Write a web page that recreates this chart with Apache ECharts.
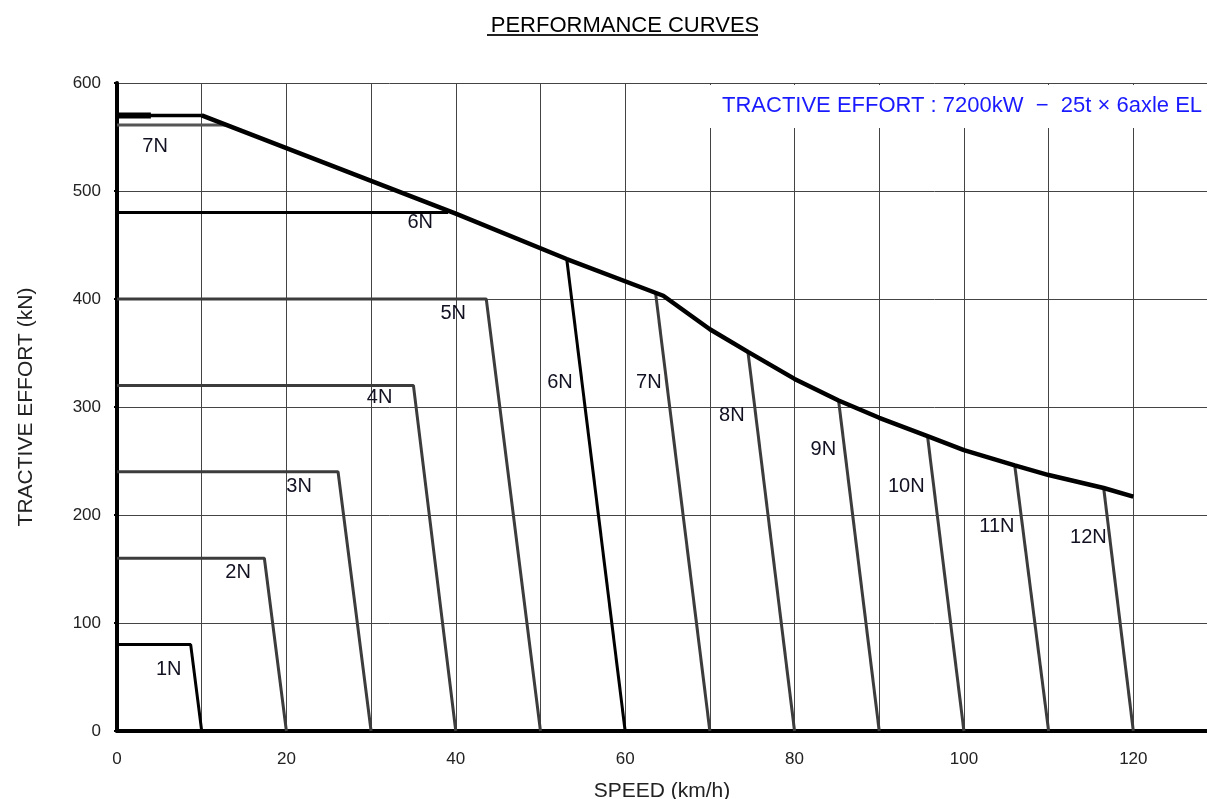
<!DOCTYPE html>
<html>
<head>
<meta charset="utf-8">
<script src="https://cdn.jsdelivr.net/npm/echarts@6/dist/echarts.min.js"></script>
<style>
  html, body { margin: 0; padding: 0; background: #fff; }
  #main { width: 1207px; height: 799px; }
</style>
</head>
<body>
<div id="main"></div>
<script>
// envelope (max tractive effort)
var envelopeSpeed = [10, 40, 53.1, 64.5, 70, 74.5, 80, 85.2, 90, 95.7, 100, 106, 110, 116.5, 120];
var envelopeEffort = [570, 479, 437, 403, 372, 351, 326, 306, 290, 273, 260, 246, 237, 225, 217];

// low notches: flat at constant effort, then drop to zero
var lowNames = ['1N', '2N', '3N', '4N', '5N'];
var lowEffort = [80, 160, 240, 320, 400];
var lowKnee = [8.7, 17.4, 26.1, 35.0, 43.6];
var lowZero = [10, 20, 30, 40, 50];

// flat lines ending on the envelope
var flatEffort = [480, 561];
var flatEnd = [39.1, 13.1];

// high notches: start on envelope, drop to zero
var highNames = ['6N', '7N', '8N', '9N', '10N', '11N', '12N'];
var highTopSpeed = [53.1, 63.6, 74.5, 85.2, 95.7, 106, 116.5];
var highTopEffort = [437, 405, 351, 306, 273, 246, 225];
var highZero = [60, 70, 80, 90, 100, 110, 120];

// notch labels
var labelNames = ['7N', '6N', '5N', '4N', '3N', '2N', '1N', '6N', '7N', '8N', '9N', '10N', '11N', '12N'];
var labelSpeed = [4.5, 35.8, 39.7, 31.0, 21.5, 14.3, 6.1, 52.3, 62.8, 72.6, 83.4, 93.2, 103.9, 114.7];
var labelEffort = [541, 471, 387, 309, 226, 147, 57, 323, 323, 292, 261, 226, 189, 179];

var FONT = 'Liberation Sans, Arial, sans-serif';
var series = [];

// envelope
series.push({
    type: 'line',
    data: envelopeSpeed.map(function (s, i) { return [s, envelopeEffort[i]]; }),
    symbol: 'none',
    lineStyle: { color: '#000', width: 4.5 },
    z: 5
});
// top flat part
series.push({
    type: 'line',
    data: [[0, envelopeEffort[0]], [envelopeSpeed[0], envelopeEffort[0]]],
    symbol: 'none',
    lineStyle: { color: '#000', width: 3.5 },
    z: 5
});
series.push({
    type: 'line',
    data: [[0, envelopeEffort[0]], [4, envelopeEffort[0]]],
    symbol: 'none',
    lineStyle: { color: '#000', width: 6 },
    z: 5
});

lowEffort.forEach(function (e, i) {
    series.push({
        type: 'line',
        data: [[0, e], [lowKnee[i], e], [lowZero[i], 0]],
        symbol: 'none',
        lineStyle: { color: i === 0 ? '#000' : '#3c3c3c', width: 3 },
        z: 4
    });
});

flatEffort.forEach(function (e, i) {
    series.push({
        type: 'line',
        data: [[0, e], [flatEnd[i], e]],
        symbol: 'none',
        lineStyle: { color: i === 0 ? '#000' : '#555', width: 3 },
        z: 4
    });
});

highTopSpeed.forEach(function (s, i) {
    series.push({
        type: 'line',
        data: [[s, highTopEffort[i]], [highZero[i], 0]],
        symbol: 'none',
        lineStyle: { color: i === 0 ? '#000' : '#3c3c3c', width: 3 },
        z: 4
    });
});

series.push({
    type: 'scatter',
    silent: true,
    symbolSize: 1,
    itemStyle: { color: 'rgba(0,0,0,0)' },
    data: labelNames.map(function (n, i) { return { name: n, value: [labelSpeed[i], labelEffort[i]] }; }),
    label: {
        show: true,
        position: 'inside',
        formatter: '{b}',
        color: '#111122',
        opacity: 1,
        textBorderWidth: 0,
        fontSize: 20,
        fontFamily: FONT
    },
    z: 6
});

var option = {
    backgroundColor: '#fff',
    animation: false,
    title: [{
        text: 'PERFORMANCE CURVES',
        left: 620,
        textAlign: 'center',
        top: 10,
        textStyle: {
            color: '#000',
            fontSize: 22,
            fontWeight: 'normal',
            fontFamily: FONT
        }
    }, {
        text: 'TRACTIVE EFFORT : 7200kW  \u2212  25t \u00d7 6axle EL',
        left: 704,
        top: 85,
        backgroundColor: '#fff',
        padding: [10, 20, 11, 18],
        textStyle: {
            color: '#1a1aff',
            fontSize: 22,
            fontWeight: 'normal',
            fontFamily: FONT
        }
    }],
    graphic: [{
        type: 'line',
        shape: { x1: 487, y1: 35, x2: 758, y2: 35 },
        style: { stroke: '#222', lineWidth: 2 }
    }],
    grid: { left: 117, right: 0, top: 83, bottom: 68, outerBoundsMode: 'none' },
    xAxis: {
        type: 'value',
        min: 0,
        max: 128.7,
        interval: 10,
        name: 'SPEED (km/h)',
        nameLocation: 'middle',
        nameGap: 50,
        nameTextStyle: { color: '#222', fontSize: 21, fontFamily: FONT },
        axisLine: { show: true, lineStyle: { color: '#000', width: 4 } },
        axisTick: { show: false },
        axisLabel: {
            color: '#222',
            fontSize: 17,
            margin: 20,
            fontFamily: FONT,
            formatter: function (v) { return v % 20 === 0 ? v : ''; }
        },
        splitLine: { show: true, lineStyle: { color: '#444', width: 1 } }
    },
    yAxis: {
        type: 'value',
        min: 0,
        max: 600,
        interval: 100,
        name: 'TRACTIVE EFFORT (kN)',
        nameLocation: 'middle',
        nameGap: 80,
        nameTextStyle: { color: '#222', fontSize: 21, fontFamily: FONT },
        axisLine: { show: true, lineStyle: { color: '#000', width: 4 } },
        axisTick: { show: true, length: 3, lineStyle: { color: '#000', width: 2 } },
        axisLabel: {
            color: '#222',
            fontSize: 17,
            margin: 16,
            fontFamily: FONT
        },
        splitLine: { show: true, lineStyle: { color: '#444', width: 1 } }
    },
    series: series
};

var chart = echarts.init(document.getElementById('main'));
chart.setOption(option);
</script>
</body>
</html>
